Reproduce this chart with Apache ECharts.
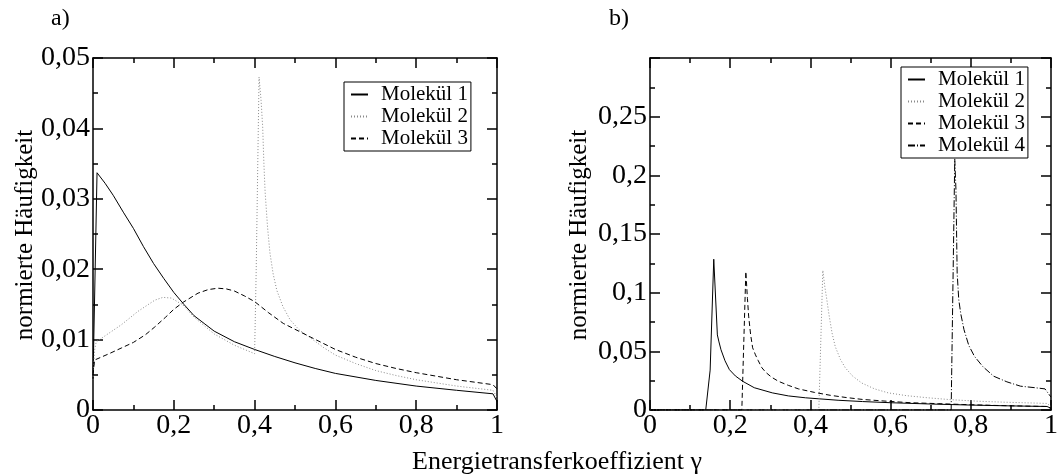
<!DOCTYPE html>
<html>
<head>
<meta charset="utf-8">
<script src="https://cdn.jsdelivr.net/npm/echarts@6/dist/echarts.min.js"></script>
<style>html,body{margin:0;padding:0;background:#fff;}#c{width:1061px;height:474px;}</style>
</head>
<body>
<div id="c"></div>
<script>
// ---- data ----
const seriesNamesA = ['Molekül 1', 'Molekül 2', 'Molekül 3'];
const seriesNamesB = ['Molekül 1', 'Molekül 2', 'Molekül 3', 'Molekül 4'];
const xTicks = [0, 0.2, 0.4, 0.6, 0.8, 1];
const yTicksA = [0, 0.01, 0.02, 0.03, 0.04, 0.05];
const yTicksB = [0, 0.05, 0.1, 0.15, 0.2, 0.25];

const aMol1 = [[0,0.0043],[0.01,0.0337],[0.03,0.0322],[0.05,0.0305],[0.075,0.0281],[0.1,0.0258],[0.125,0.0232],[0.15,0.0208],[0.175,0.0187],[0.2,0.0167],[0.225,0.0150],[0.25,0.0134],[0.275,0.0123],[0.3,0.0112],[0.35,0.0097],[0.4,0.0086],[0.45,0.0076],[0.5,0.0067],[0.55,0.0059],[0.6,0.0052],[0.7,0.0042],[0.8,0.0034],[0.9,0.0028],[0.99,0.0023],[1.0,0.0012]];
const aMol2 = [[0,0.0043],[0.004,0.0085],[0.008,0.0097],[0.029,0.0105],[0.07,0.0121],[0.111,0.0140],[0.153,0.0156],[0.173,0.0160],[0.194,0.0159],[0.223,0.0149],[0.25,0.0132],[0.3,0.0108],[0.35,0.0092],[0.4,0.0080],[0.404,0.020],[0.411,0.0473],[0.416,0.044],[0.42,0.0402],[0.423,0.035],[0.426,0.031],[0.432,0.026],[0.438,0.0223],[0.446,0.0193],[0.455,0.017],[0.47,0.0147],[0.488,0.0128],[0.51,0.0114],[0.537,0.0103],[0.57,0.0089],[0.6,0.0078],[0.65,0.0066],[0.7,0.0056],[0.75,0.0049],[0.8,0.0043],[0.9,0.0034],[0.99,0.0028],[1.0,0.0018]];
const aMol3 = [[0,0.0050],[0.004,0.0071],[0.04,0.0080],[0.07,0.0088],[0.1,0.0096],[0.13,0.0107],[0.153,0.0118],[0.18,0.0132],[0.2,0.0143],[0.223,0.0153],[0.26,0.0166],[0.285,0.0171],[0.309,0.0173],[0.33,0.0172],[0.35,0.0169],[0.375,0.0162],[0.4,0.0154],[0.435,0.0138],[0.471,0.0123],[0.537,0.0104],[0.6,0.0086],[0.65,0.0075],[0.7,0.0066],[0.75,0.0059],[0.8,0.0053],[0.9,0.0043],[0.99,0.0036],[1.0,0.0030]];

const bMol1 = [[0,0],[0.139,0],[0.150,0.034],[0.159,0.1285],[0.168,0.064],[0.172,0.058],[0.177,0.0514],[0.187,0.042],[0.198,0.0344],[0.213,0.029],[0.231,0.0245],[0.26,0.019],[0.305,0.0146],[0.345,0.012],[0.388,0.0104],[0.469,0.0083],[0.53,0.0072],[0.6,0.0062],[0.7,0.0051],[0.8,0.0042],[0.9,0.0035],[0.99,0.0030],[1.0,0.0015]];
const bMol2 = [[0,0],[0.421,0],[0.431,0.119],[0.436,0.105],[0.441,0.094],[0.446,0.082],[0.454,0.0656],[0.462,0.054],[0.475,0.043],[0.487,0.036],[0.505,0.029],[0.528,0.023],[0.56,0.018],[0.594,0.0146],[0.64,0.0122],[0.693,0.0104],[0.75,0.0088],[0.817,0.0075],[0.88,0.0067],[0.94,0.0061],[0.99,0.0056],[1.0,0.003]];
const bMol3 = [[0,0],[0.229,0],[0.239,0.118],[0.243,0.095],[0.246,0.080],[0.251,0.064],[0.256,0.053],[0.263,0.047],[0.27,0.042],[0.279,0.036],[0.289,0.032],[0.303,0.028],[0.32,0.0245],[0.345,0.021],[0.37,0.018],[0.41,0.015],[0.45,0.0125],[0.49,0.0106],[0.53,0.009],[0.59,0.0075],[0.65,0.0062],[0.72,0.0054],[0.78,0.0047],[0.86,0.0039],[0.94,0.0033],[0.99,0.003],[1.0,0.0012]];
const bMol4 = [[0,0],[0.751,0],[0.760,0.214],[0.763,0.1875],[0.766,0.1166],[0.77,0.094],[0.775,0.082],[0.783,0.0685],[0.795,0.055],[0.809,0.0458],[0.83,0.037],[0.857,0.0288],[0.89,0.024],[0.924,0.0203],[0.96,0.019],[0.985,0.018],[1.0,0.011]];

// ---- styling ----
const FONT = 'Liberation Serif';
const styles = {
  'Molekül 1': {color: '#000', type: 'solid'},
  'Molekül 2': {color: '#8a8a8a', type: [1, 2]},
  'Molekül 3': {color: '#000', type: [5, 3]},
  'Molekül 4': {color: '#000', type: [7, 2, 1, 2]}
};

function fmt(v) {
  if (Math.abs(v) < 1e-12) return '0';
  return String(parseFloat(v.toFixed(3))).replace('.', ',');
}
function fmtB(v) {
  if (Math.abs(v - 0.3) < 1e-9) return '';
  return fmt(v);
}

const lineW = 1.5;
function mkX(grid, pos, showLabel) {
  return {
    gridIndex: grid, type: 'value', min: 0, max: 1, interval: 0.2, position: pos,
    axisLine: {show: true, onZero: false, lineStyle: {color: '#000', width: lineW}},
    axisTick: {show: true, inside: true, length: 10, lineStyle: {color: '#000', width: lineW}},
    minorTick: {show: true, splitNumber: 2, length: 5, lineStyle: {color: '#000', width: lineW}},
    splitLine: {show: false},
    axisLabel: {show: showLabel, margin: 2, fontFamily: FONT, fontSize: 28, color: '#000', formatter: fmt}
  };
}
function mkY(grid, pos, showLabel, max, interval, f) {
  return {
    gridIndex: grid, type: 'value', min: 0, max: max, interval: interval, position: pos,
    axisLine: {show: true, onZero: false, lineStyle: {color: '#000', width: lineW}},
    axisTick: {show: true, inside: true, length: 10, lineStyle: {color: '#000', width: lineW}},
    minorTick: {show: true, splitNumber: 2, length: 5, lineStyle: {color: '#000', width: lineW}},
    splitLine: {show: false},
    axisLabel: {show: showLabel, margin: 3, fontFamily: FONT, fontSize: 28, color: '#000', formatter: f}
  };
}

function mkSeries(name, data, xi, yi) {
  const s = styles[name];
  return {
    name: name, type: 'line', data: data, xAxisIndex: xi, yAxisIndex: yi,
    symbol: 'none', showSymbol: false, smooth: false,
    lineStyle: {color: s.color, width: 1, type: s.type},
    itemStyle: {color: s.color}
  };
}

const legendBase = {
  orient: 'vertical', itemWidth: 17, itemHeight: 10, itemGap: 1,
  borderColor: '#000', borderWidth: 1, borderRadius: 0, backgroundColor: '#fff',
  padding: [2, 3, 2, 6],
  itemStyle: {opacity: 0, color: 'rgba(0,0,0,0)', borderWidth: 0},
  textStyle: {fontFamily: FONT, fontSize: 21, color: '#000', lineHeight: 21, padding: [0, 0, 0, 8]},
  selectedMode: false
};

const chart = echarts.init(document.getElementById('c'), null, {renderer: 'canvas'});
chart.setOption({
  animation: false,
  backgroundColor: '#fff',
  grid: [
    {left: 93, top: 58, width: 404, height: 352},
    {left: 650, top: 58, width: 404, height: 352}
  ],
  xAxis: [mkX(0, 'bottom', true), mkX(0, 'top', false), mkX(1, 'bottom', true), mkX(1, 'top', false)],
  yAxis: [
    mkY(0, 'left', true, 0.05, 0.01, fmt), mkY(0, 'right', false, 0.05, 0.01, fmt),
    mkY(1, 'left', true, 0.3, 0.05, fmtB), mkY(1, 'right', false, 0.3, 0.05, fmtB)
  ],
  legend: [
    Object.assign({}, legendBase, {data: seriesNamesA, left: 344, top: 82}),
    Object.assign({}, legendBase, {data: seriesNamesB, left: 901, top: 67})
  ],
  series: [
    mkSeries('Molekül 1', aMol1, 0, 0),
    mkSeries('Molekül 2', aMol2, 0, 0),
    mkSeries('Molekül 3', aMol3, 0, 0),
    mkSeries('Molekül 1', bMol1, 2, 2),
    mkSeries('Molekül 2', bMol2, 2, 2),
    mkSeries('Molekül 3', bMol3, 2, 2),
    mkSeries('Molekül 4', bMol4, 2, 2)
  ],
  graphic: [
    {type: 'text', left: 51, top: 7, style: {text: 'a)', font: '24px "Liberation Serif"', fill: '#000'}},
    {type: 'text', left: 609, top: 7, style: {text: 'b)', font: '24px "Liberation Serif"', fill: '#000'}},
    {type: 'text', x: 557, y: 462, style: {text: 'Energietransferkoeffizient γ', font: '26px "Liberation Serif"', fill: '#000', align: 'center', verticalAlign: 'middle'}},
    {type: 'text', x: 25, y: 235, rotation: Math.PI / 2, style: {text: 'normierte Häufigkeit', font: '25px "Liberation Serif"', fill: '#000', align: 'center', verticalAlign: 'middle'}},
    {type: 'text', x: 579, y: 235, rotation: Math.PI / 2, style: {text: 'normierte Häufigkeit', font: '25px "Liberation Serif"', fill: '#000', align: 'center', verticalAlign: 'middle'}}
  ]
});
</script>
</body>
</html>
